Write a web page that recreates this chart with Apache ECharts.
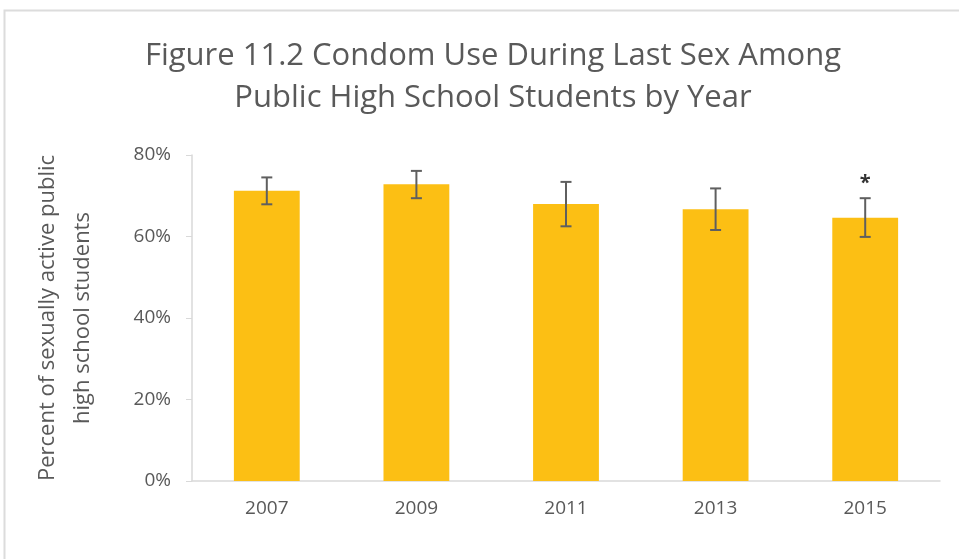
<!DOCTYPE html>
<html>
<head>
<meta charset="utf-8">
<script src="https://cdn.jsdelivr.net/npm/echarts@6/dist/echarts.min.js"></script>
<style>
html,body{margin:0;padding:0;background:#fff;}
#chart{width:959px;height:559px;}
</style>
</head>
<body>
<div id="chart"></div>
<script>
// Survey years
const years = ['2007', '2009', '2011', '2013', '2015'];
// Percent who used a condom at last sex (share, 0-1)
const condomUse = [0.712, 0.728, 0.680, 0.667, 0.646];
// 95% confidence interval bounds
const ciLow = [0.679, 0.694, 0.625, 0.616, 0.599];
const ciHigh = [0.745, 0.761, 0.734, 0.718, 0.694];
// Significance markers shown above the error bars
const marks = ['', '', '', '', '*'];
// Y axis ticks
const yTicks = [0, 0.2, 0.4, 0.6, 0.8];

const textColor = '#595959';
const fontFam = '"Open Sans", "Noto Sans", sans-serif';

const chart = echarts.init(document.getElementById('chart'));

chart.setOption({
  animation: false,
  backgroundColor: '#ffffff',
  title: {
    text: 'Figure 11.2 Condom Use During Last Sex Among\nPublic High School Students by Year',
    left: 488,
    top: 30,
    textAlign: 'center',
    textStyle: {
      color: textColor,
      fontFamily: fontFam,
      fontWeight: 'normal',
      fontSize: 31,
      lineHeight: 42
    }
  },
  graphic: [{
    type: 'rect',
    shape: { x: 4.5, y: 10.5, width: 1000, height: 600 },
    style: { fill: 'none', stroke: '#dcdcdc', lineWidth: 2 },
    silent: true
  }],
  grid: { left: 192, right: 19, top: 155, bottom: 78 },
  xAxis: {
    type: 'category',
    data: years,
    axisLine: { lineStyle: { color: '#d9d9d9', width: 1.5 } },
    axisTick: { show: false },
    axisLabel: { color: textColor, fontFamily: fontFam, fontSize: 19, margin: 18 }
  },
  yAxis: {
    type: 'value',
    min: yTicks[0],
    max: yTicks[yTicks.length - 1],
    interval: 0.2,
    name: 'Percent of sexually active public\nhigh school students',
    nameLocation: 'middle',
    nameGap: 92,
    nameRotate: 90,
    nameTextStyle: { color: textColor, fontFamily: fontFam, fontSize: 22, lineHeight: 35 },
    axisLine: { show: true, lineStyle: { color: '#d9d9d9', width: 1.5 } },
    axisTick: { show: true, inside: false, length: 6, lineStyle: { color: '#d9d9d9' } },
    splitLine: { show: false },
    axisLabel: {
      color: textColor,
      fontFamily: fontFam,
      fontSize: 19,
      margin: 21,
      formatter: v => Math.round(v * 100) + '%'
    }
  },
  series: [
    {
      type: 'bar',
      data: condomUse,
      barWidth: '44%',
      itemStyle: { color: '#FCBF14' },
      z: 2
    },
    {
      type: 'custom',
      data: years.map((y, i) => [i, ciLow[i], ciHigh[i], marks[i]]),
      z: 3,
      renderItem: function (params, api) {
        const idx = api.value(0);
        const lo = api.coord([idx, api.value(1)]);
        const hi = api.coord([idx, api.value(2)]);
        const half = 5.5;
        const style = { stroke: '#5f5f5f', lineWidth: 2, fill: 'none' };
        const children = [
          { type: 'line', shape: { x1: hi[0], y1: hi[1], x2: lo[0], y2: lo[1] }, style: style },
          { type: 'line', shape: { x1: hi[0] - half, y1: hi[1], x2: hi[0] + half, y2: hi[1] }, style: style },
          { type: 'line', shape: { x1: lo[0] - half, y1: lo[1], x2: lo[0] + half, y2: lo[1] }, style: style }
        ];
        const mark = marks[params.dataIndex];
        if (mark) {
          children.push({
            type: 'text',
            style: {
              text: mark,
              x: hi[0],
              y: hi[1] - 5,
              align: 'center',
              verticalAlign: 'bottom',
              fill: '#333333',
              font: 'bold 20px ' + fontFam
            }
          });
        }
        return { type: 'group', children: children };
      }
    }
  ]
});
</script>
</body>
</html>
